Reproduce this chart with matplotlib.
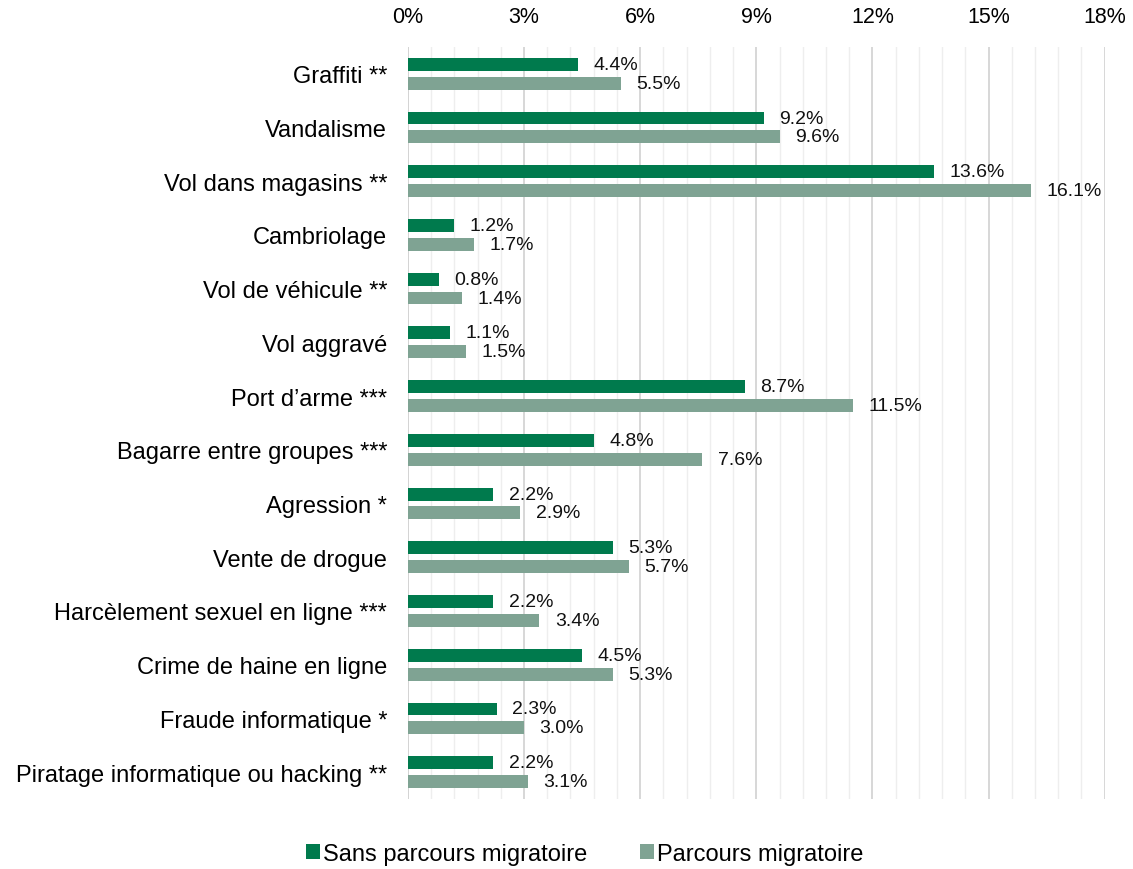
import numpy as np
import matplotlib.pyplot as plt
from matplotlib.ticker import MultipleLocator, FuncFormatter

plt.rcParams['font.family'] = ['Liberation Sans', 'DejaVu Sans']

categories = [
    "Graffiti **", "Vandalisme", "Vol dans magasins **", "Cambriolage",
    "Vol de véhicule **", "Vol aggravé", "Port d\u2019arme ***",
    "Bagarre entre groupes ***", "Agression *", "Vente de drogue",
    "Harcèlement sexuel en ligne ***", "Crime de haine en ligne",
    "Fraude informatique *", "Piratage informatique ou hacking **",
]
sans_parcours = [4.4, 9.2, 13.6, 1.2, 0.8, 1.1, 8.7, 4.8, 2.2, 5.3, 2.2, 4.5, 2.3, 2.2]
avec_parcours = [5.5, 9.6, 16.1, 1.7, 1.4, 1.5, 11.5, 7.6, 2.9, 5.7, 3.4, 5.3, 3.0, 3.1]

dark = "#007a4d"
light = "#7fa393"

fig = plt.figure(figsize=(11.33, 8.7), dpi=100)
ax = fig.add_axes([0.360, 0.0805, 0.615, 0.8645])

y = np.arange(len(categories))
h = 0.24
off = 0.175
b1 = ax.barh(y - off, sans_parcours, height=h, color=dark, label="Sans parcours migratoire", zorder=3)
b2 = ax.barh(y + off, avec_parcours, height=h, color=light, label="Parcours migratoire", zorder=3)

# value labels just past the end of each bar
for bars, vals in ((b1, sans_parcours), (b2, avec_parcours)):
    for bar, v in zip(bars, vals):
        ax.text(v + 0.4, bar.get_y() + bar.get_height() / 2, f"{v:.1f}%",
                va="center", ha="left", fontsize=14, color="#111111")

ax.set_ylim(len(categories) - 0.5, -0.5)
ax.set_yticks(y)
ax.set_yticklabels(categories, fontsize=17)
ax.tick_params(axis="y", length=0, pad=15)

ax.set_xlim(0, 18)
ax.xaxis.set_major_locator(MultipleLocator(3))
ax.xaxis.set_minor_locator(MultipleLocator(0.6))
ax.xaxis.set_major_formatter(FuncFormatter(lambda v, p: f"{v:.0f}%"))
ax.xaxis.tick_top()
ax.tick_params(axis="x", which="both", length=0, labelsize=15.5, pad=14)
ax.grid(axis="x", which="major", color="#d4d4d4", linewidth=1.3, zorder=0)
ax.grid(axis="x", which="minor", color="#eeeeee", linewidth=1.0, zorder=0)

for s in ax.spines.values():
    s.set_visible(False)
ax.axvline(0, color="#d4d4d4", linewidth=1.3, zorder=1)

fig.legend(handles=[b1, b2], loc="center", bbox_to_anchor=(0.516, 0.017),
           ncol=2, frameon=False, fontsize=17, handlelength=0.6, handleheight=0.6,
           handletextpad=0.15, columnspacing=2.2)

fig.savefig("out.png", dpi=100)
